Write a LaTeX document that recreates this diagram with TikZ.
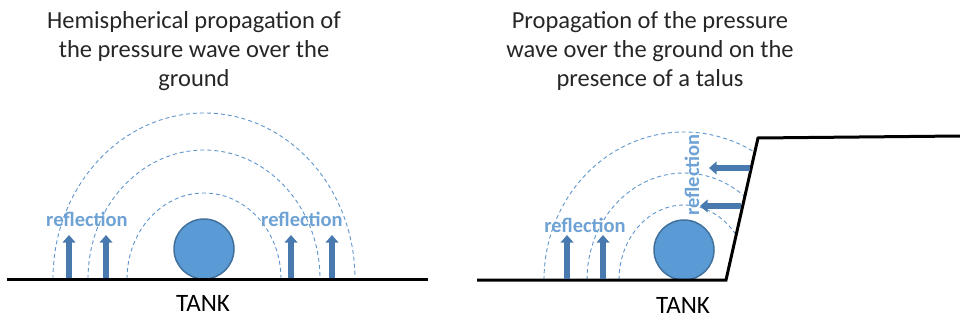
\documentclass[tikz,border=0pt]{standalone}
\usepackage{fontspec}
\setmainfont{Carlito}
\usetikzlibrary{arrows.meta}
\definecolor{tankfill}{RGB}{91,155,213}
\definecolor{tankedge}{RGB}{65,113,156}
\definecolor{arrowblue}{RGB}{72,122,176}
\definecolor{labelblue}{RGB}{110,162,212}
\definecolor{wave}{RGB}{95,150,205}
\definecolor{titlegray}{RGB}{38,38,38}
\begin{document}
\begin{tikzpicture}[x=1pt,y=-1pt,
  titletext/.style={align=center,inner sep=0pt,text=titlegray,font=\fontsize{24.5}{29}\selectfont},
  tanklabel/.style={inner sep=0pt,text=black,font=\fontsize{25}{30}\selectfont},
  refl/.style={inner sep=0pt,text=labelblue,font=\bfseries\fontsize{20.5}{24}\selectfont},
  tank/.style={circle,draw=tankedge,fill=tankfill,line width=1.5pt,minimum size=60pt,inner sep=0pt},
  ground/.style={line width=3pt,black,line join=miter},
  wavearc/.style={draw=wave,line width=0.9pt,dash pattern=on 4pt off 3pt},
  push/.style={draw=arrowblue,line width=5.5pt,-{Triangle[width=12.5pt,length=7.5pt]}}
]
\useasboundingbox (0,0) rectangle (960,321);

% ---------- left panel ----------
\node[titletext] (t1) at (194,51) {Hemispherical propagation of\\the pressure wave over the\\ground};

\draw[wavearc] (53,279) arc[start angle=180,end angle=360,x radius=151,y radius=166];
\draw[wavearc] (88,279) arc[start angle=180,end angle=360,x radius=116,y radius=129];
\draw[wavearc] (127,279) arc[start angle=180,end angle=360,x radius=77,y radius=86];

\node[tank] (tankA) at (204,249) {};
\draw[ground] (7,279) coordinate (gA1) -- (428,279) coordinate (gA2);

\coordinate (a1s) at (69,278); \coordinate (a1e) at (69,235);
\coordinate (a2s) at (106,278); \coordinate (a2e) at (106,235);
\coordinate (a3s) at (291,278); \coordinate (a3e) at (291,235);
\coordinate (a4s) at (332,278); \coordinate (a4e) at (332,235);
\draw[push] (a1s) -- (a1e);
\draw[push] (a2s) -- (a2e);
\draw[push] (a3s) -- (a3e);
\draw[push] (a4s) -- (a4e);

\node[refl] (rA1) at (87,219) {reflection};
\node[refl] (rA2) at (302,219) {reflection};
\node[tanklabel] (lA) at (203,303) {TANK};

% ---------- right panel ----------
\node[titletext] (t2) at (650,51) {Propagation of the pressure\\wave over the ground on the\\presence of a talus};

\begin{scope}
  \clip (470,100) -- (766.6,100) -- (726,280) -- (470,280) -- cycle;
  \draw[wavearc] (544,280) arc[start angle=180,end angle=360,x radius=140,y radius=148];
  \draw[wavearc] (587,280) arc[start angle=180,end angle=360,x radius=97,y radius=107];
  \draw[wavearc] (619,280) arc[start angle=180,end angle=360,x radius=65,y radius=75];
\end{scope}

\node[tank] (tankB) at (684,250) {};
\draw[ground] (477,280) coordinate (gB1) -- (726,280) coordinate (gB2) -- (758,138) coordinate (gB3) -- (960,136) coordinate (gB4);

\coordinate (b1s) at (567,279); \coordinate (b1e) at (567,235);
\coordinate (b2s) at (603,279); \coordinate (b2e) at (603,235);
\coordinate (b3s) at (750,168); \coordinate (b3e) at (709,168);
\coordinate (b4s) at (741,206); \coordinate (b4e) at (700,206);
\draw[push] (b1s) -- (b1e);
\draw[push] (b2s) -- (b2e);
\draw[push] (b3s) -- (b3e);
\draw[push] (b4s) -- (b4e);

\node[refl] (rB1) at (585,225) {reflection};
\node[refl,rotate=90] (rB2) at (692,175) {reflection};
\node[tanklabel] (lB) at (683,305) {TANK};
\end{tikzpicture}
\end{document}
